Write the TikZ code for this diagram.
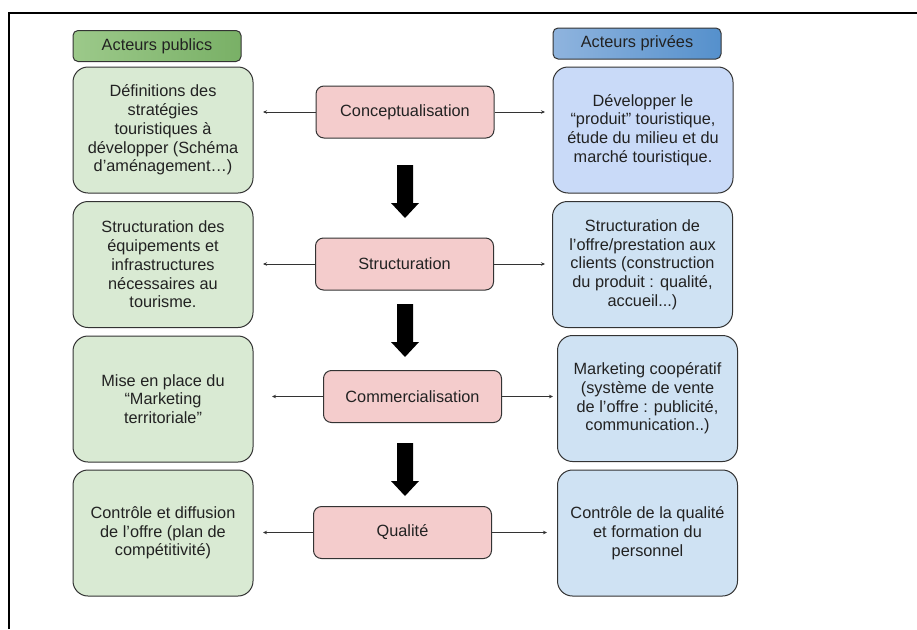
\documentclass[tikz,border=0pt]{standalone}
\usepackage{fontspec}
\setmainfont{Liberation Sans}
\usetikzlibrary{arrows.meta}
\definecolor{gfill}{HTML}{D9EAD3}
\definecolor{bfill}{HTML}{CFE2F3}
\definecolor{bfillA}{HTML}{C9DAF8}
\definecolor{pfill}{HTML}{F4CCCC}
\definecolor{txt}{HTML}{222222}
\definecolor{edge}{HTML}{333333}
\definecolor{ghl}{HTML}{9CC98A}
\definecolor{ghm}{HTML}{C5E0B9}
\definecolor{ghr}{HTML}{79B066}
\definecolor{bhl}{HTML}{8FB4DE}
\definecolor{bhm}{HTML}{D2E3F5}
\definecolor{bhr}{HTML}{5590CC}
\begin{document}
\begin{tikzpicture}[x=1pt,y=-1pt, font=\fontsize{16.3}{18.7}\selectfont,
 box/.style={draw=edge, line width=1pt, rounded corners=15pt, align=center, text=txt, minimum width=180pt, minimum height=126pt, inner sep=0pt},
 gbox/.style={box, fill=gfill},
 bbox/.style={box, fill=bfill},
 pbox/.style={draw=edge, line width=1pt, rounded corners=8pt, fill=pfill, text=txt, minimum width=178pt, minimum height=52pt, inner sep=0pt},
 hdr/.style={draw=edge, line width=1pt, rounded corners=5pt, minimum width=168pt, minimum height=31pt, text=txt, inner sep=0pt},
 harrow/.style={draw=edge, line width=0.6pt, -{Stealth[length=4pt,width=3.5pt]}},
 bigarrow/.pic={\fill[black] (-8,0) -- (8,0) -- (8,38) -- (14,38) -- (0,53) -- (-14,38) -- (-8,38) -- cycle;}
]
\useasboundingbox (0,0) rectangle (917,629);
\draw[line width=1.8pt] (9,629) -- (9,13) -- (917,13);

% headers
\node[hdr, left color=ghl, middle color=ghm, right color=ghr] (hg) at (157,46) {Acteurs publics};
\node[hdr, left color=bhl, middle color=bhm, right color=bhr] (hb) at (637,43.5) {Acteurs privées};

% public actors
\node[gbox] (g1) at (163,130) {Définitions des\\stratégies\\touristiques à\\développer (Schéma\\d’aménagement…)};
\node[gbox] (g2) at (163,264.5) {Structuration des\\équipements et\\infrastructures\\nécessaires au\\tourisme.};
\node[gbox] (g3) at (163,399) {Mise en place du\\“Marketing\\territoriale”};
\node[gbox] (g4) at (163,533) {Contrôle et diffusion\\de l’offre (plan de\\compétitivité)};

% private actors
\node[bbox, fill=bfillA] (b1) at (643,130) {Développer le\\“produit” touristique,\\étude du milieu et du\\marché touristique.};
\node[bbox] (b2) at (642.5,264.5) {Structuration de\\l’offre/prestation aux\\clients (construction\\du produit : qualité,\\accueil...)};
\node[bbox] (b3) at (647.5,398.5) {Marketing coopératif\\(système de vente\\de l’offre : publicité,\\communication..)};
\node[bbox] (b4) at (647.5,533) {Contrôle de la qualité\\et formation du\\personnel};

% stages
\node[pbox] (c1) at (405,112) {Conceptualisation};
\node[pbox] (c2) at (404.5,264) {Structuration};
\node[pbox] (c3) at (412.5,396.5) {Commercialisation};
\node[pbox] (c4) at (402.5,532.5) {Qualité};

% arrow end points
\coordinate (l1) at (263,112); \coordinate (r1) at (545,112);
\coordinate (l2) at (263,264); \coordinate (r2) at (545,264);
\coordinate (l3) at (272,396.5); \coordinate (r3) at (553,396.5);
\coordinate (l4) at (263,532.5); \coordinate (r4) at (547,532.5);

\draw[harrow] (c1.west) -- (l1);
\draw[harrow] (c1.east) -- (r1);
\draw[harrow] (c2.west) -- (l2);
\draw[harrow] (c2.east) -- (r2);
\draw[harrow] (c3.west) -- (l3);
\draw[harrow] (c3.east) -- (r3);
\draw[harrow] (c4.west) -- (l4);
\draw[harrow] (c4.east) -- (r4);

% big arrows
\pic at (405,165) {bigarrow};
\pic at (405,304) {bigarrow};
\pic at (405,443) {bigarrow};
\end{tikzpicture}
\end{document}
